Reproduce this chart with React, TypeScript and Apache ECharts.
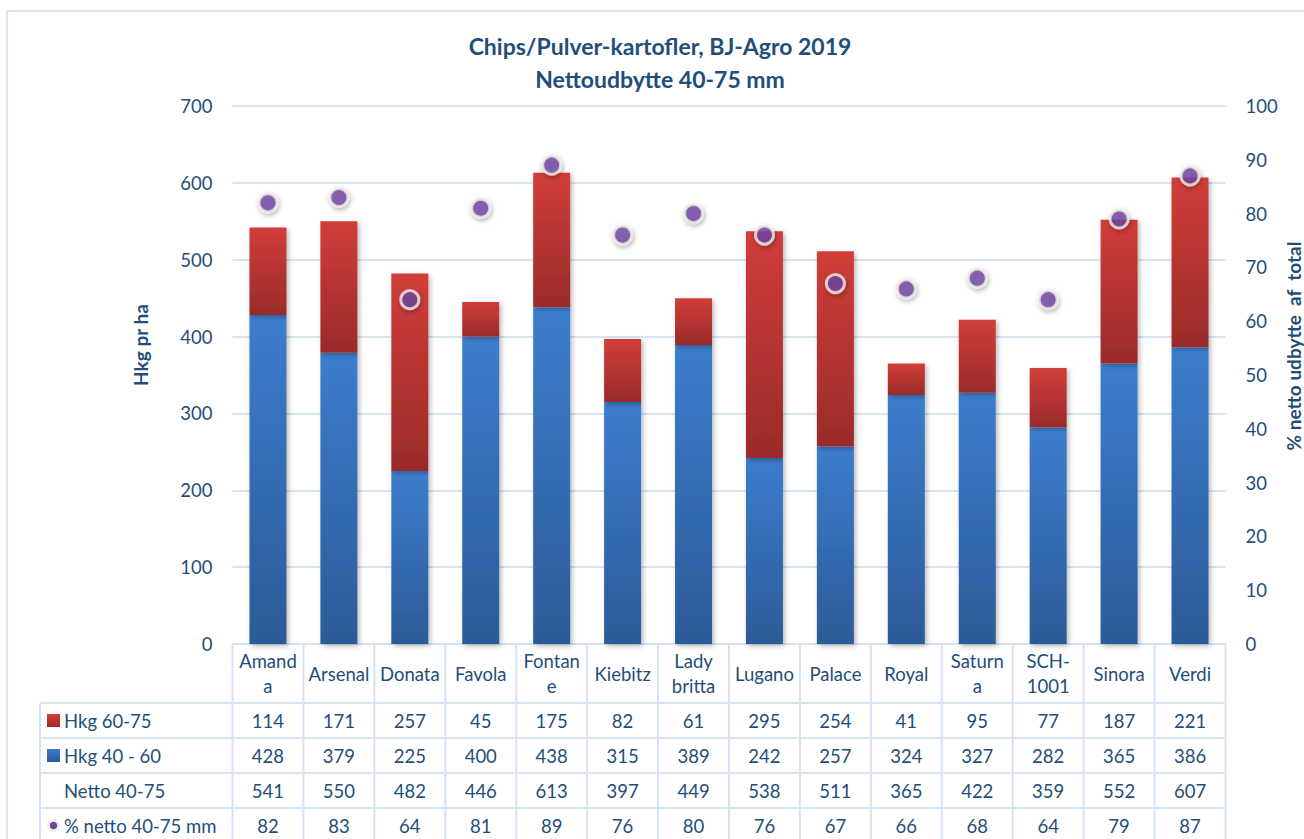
import React, { useEffect, useRef } from "react";
import * as echarts from "echarts";

const categories = ["Amanda", "Arsenal", "Donata", "Favola", "Fontane", "Kiebitz", "Lady britta", "Lugano", "Palace", "Royal", "Saturna", "SCH-1001", "Sinora", "Verdi"];
const categoryLabels = ["Amand\na", "Arsenal", "Donata", "Favola", "Fontan\ne", "Kiebitz", "Lady\nbritta", "Lugano", "Palace", "Royal", "Saturn\na", "SCH-\n1001", "Sinora", "Verdi"];
const hkg6075 = [114, 171, 257, 45, 175, 82, 61, 295, 254, 41, 95, 77, 187, 221];
const hkg4060 = [428, 379, 225, 400, 438, 315, 389, 242, 257, 324, 327, 282, 365, 386];
const netto = [541, 550, 482, 446, 613, 397, 449, 538, 511, 365, 422, 359, 552, 607];
const pctNetto = [82, 83, 64, 81, 89, 76, 80, 76, 67, 66, 68, 64, 79, 87];
const rowNames = ["Hkg 60-75", "Hkg 40 - 60", "Netto 40-75", "% netto 40-75 mm"];

const FONT = "Lato, 'Open Sans', sans-serif";
const TXT = "#1F4E79";
const LINE = "#D6E3F3";
const FS = 18.5;

const blueGrad = () =>
  new echarts.graphic.LinearGradient(0, 0, 0, 1, [
    { offset: 0, color: "#3C7DCD" },
    { offset: 1, color: "#2C5B98" },
  ]);
const redGrad = () =>
  new echarts.graphic.LinearGradient(0, 0, 0, 1, [
    { offset: 0, color: "#D13D3A" },
    { offset: 1, color: "#9A2B29" },
  ]);

export default function App() {
  const ref = useRef<HTMLDivElement>(null);
  useEffect(() => {
    if (!ref.current) return;
    const chart = echarts.init(ref.current, null, { renderer: "svg" });
    const barShadow = {
      shadowColor: "rgba(0,0,0,0.28)",
      shadowBlur: 5,
      shadowOffsetX: 2,
      shadowOffsetY: 2,
    };
    chart.setOption({
      animation: false,
      backgroundColor: "#fff",
      grid: { left: 232.5, right: 78.5, top: 106, bottom: 195, containLabel: false },
      xAxis: {
        type: "category",
        data: categoryLabels,
        axisLine: { show: false },
        axisTick: { show: false },
        axisLabel: {
          interval: 0,
          margin: 29.5,
          verticalAlign: "middle",
          color: TXT,
          fontFamily: FONT,
          fontSize: FS,
          lineHeight: 25,
        },
      },
      yAxis: [
        {
          type: "value",
          min: 0,
          max: 700,
          interval: 100,
          axisLine: { show: false },
          axisTick: { show: false },
          axisLabel: { margin: 20, color: TXT, fontFamily: FONT, fontSize: FS },
          splitLine: { lineStyle: { color: LINE, width: 2 } },
        },
        {
          type: "value",
          min: 0,
          max: 100,
          interval: 10,
          axisLine: { show: false },
          axisTick: { show: false },
          axisLabel: { margin: 20, color: TXT, fontFamily: FONT, fontSize: FS },
          splitLine: { show: false },
        },
      ],
      series: [
        {
          name: "Hkg 40 - 60",
          type: "bar",
          stack: "total",
          barWidth: 37,
          data: hkg4060,
          itemStyle: { color: blueGrad(), ...barShadow },
        },
        {
          name: "Hkg 60-75",
          type: "bar",
          stack: "total",
          barWidth: 37,
          data: hkg6075,
          itemStyle: { color: redGrad(), ...barShadow },
        },
        {
          name: "% netto 40-75 mm",
          type: "scatter",
          yAxisIndex: 1,
          symbol: "circle",
          symbolSize: 18,
          data: pctNetto,
          z: 5,
          itemStyle: {
            color: "#7043A3",
            borderColor: "#F1EDE4",
            borderWidth: 3,
            shadowColor: "rgba(0,0,0,0.35)",
            shadowBlur: 5,
            shadowOffsetX: 1,
            shadowOffsetY: 2,
          },
        },
      ],
    });

    const xs = categories.map((_, i) => chart.convertToPixel({ xAxisIndex: 0 }, i) as number);
    const colW = xs[1] - xs[0];
    const left = xs[0] - colW / 2;
    const right = xs[xs.length - 1] + colW / 2;
    const y0 = chart.convertToPixel({ yAxisIndex: 0 }, 0) as number;
    const headerBottom = y0 + 59;
    const rowH = 35;
    const tableLeft = 40;
    const tableBottom = 900;
    const lineStyle = { stroke: LINE, lineWidth: 2 };
    const els: any[] = [];

    // outer border
    els.push({
      type: "rect",
      shape: { x: 7, y: 11, width: 1400, height: 1000 },
      style: { fill: "none", stroke: "#D9E3F1", lineWidth: 2 },
      silent: true,
      z: -1,
    });
    // title
    els.push({
      type: "text",
      x: 660,
      y: 62.5,
      style: {
        text: "Chips/Pulver-kartofler, BJ-Agro 2019\nNettoudbytte 40-75 mm",
        fill: TXT,
        font: `bold 23px ${FONT}`,
        align: "center",
        verticalAlign: "middle",
        lineHeight: 33,
      },
    });

    // axis names
    els.push({
      type: "text",
      x: 140,
      y: 345,
      rotation: Math.PI / 2,
      style: { text: "Hkg pr ha", fill: TXT, font: `bold 19px ${FONT}`, align: "center", verticalAlign: "middle" },
    });
    els.push({
      type: "text",
      x: 1293,
      y: 346,
      rotation: Math.PI / 2,
      style: {
        text: "% netto udbytte  af  total",
        fill: TXT,
        font: `bold 19px ${FONT}`,
        align: "center",
        verticalAlign: "middle",
      },
    });

    // table lines
    els.push({ type: "line", shape: { x1: left, y1: y0, x2: right, y2: y0 }, style: lineStyle });
    for (let r = 0; r < 4; r++) {
      const y = headerBottom + r * rowH;
      els.push({ type: "line", shape: { x1: tableLeft, y1: y, x2: right, y2: y }, style: lineStyle });
    }
    els.push({ type: "line", shape: { x1: tableLeft, y1: headerBottom, x2: tableLeft, y2: tableBottom }, style: lineStyle });
    for (let i = 0; i <= categories.length; i++) {
      const x = left + i * colW;
      els.push({ type: "line", shape: { x1: x, y1: y0, x2: x, y2: tableBottom }, style: lineStyle });
    }

    const rows = [hkg6075, hkg4060, netto, pctNetto];
    rows.forEach((vals, r) => {
      const cy = headerBottom + r * rowH + rowH / 2;
      els.push({
        type: "text",
        x: 64,
        y: cy,
        style: { text: rowNames[r], fill: TXT, font: `${FS}px ${FONT}`, align: "left", verticalAlign: "middle" },
      });
      vals.forEach((v, i) => {
        els.push({
          type: "text",
          x: xs[i],
          y: cy,
          style: { text: String(v), fill: TXT, font: `${FS}px ${FONT}`, align: "center", verticalAlign: "middle" },
        });
      });
    });
    // legend keys
    const c0 = headerBottom + rowH / 2;
    els.push({ type: "rect", shape: { x: 47, y: c0 - 6.5, width: 13, height: 13 }, style: { fill: redGrad() } });
    const c1 = headerBottom + rowH * 1.5;
    els.push({ type: "rect", shape: { x: 47, y: c1 - 6.5, width: 13, height: 13 }, style: { fill: blueGrad() } });
    const c3 = headerBottom + rowH * 3.5;
    els.push({
      type: "circle",
      shape: { cx: 53.5, cy: c3, r: 5 },
      style: { fill: "#7043A3", stroke: "#F1EDE4", lineWidth: 2.5 },
    });

    chart.setOption({ graphic: els });
    return () => chart.dispose();
  }, []);
  return (
    <div
      ref={ref}
      style={{ position: "fixed", left: 0, top: 0, width: 1304, height: 839 }}
    />
  );
}
